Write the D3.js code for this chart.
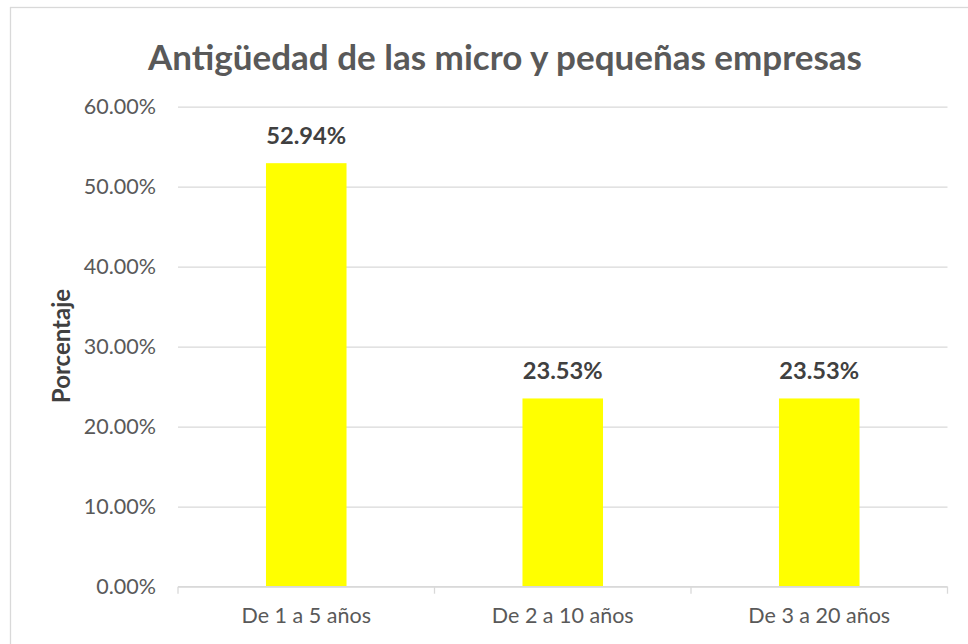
<!DOCTYPE html>
<html>
<head>
<meta charset="utf-8">
<script src="https://cdn.jsdelivr.net/npm/d3@7"></script>
<style>
  body { margin: 0; background: #fff; }
  svg { display: block; }
</style>
</head>
<body>
<div id="chart"></div>
<script>
// chart data
var categories = ['De 1 a 5 años', 'De 2 a 10 años', 'De 3 a 20 años'];
var values = [0.5294, 0.2353, 0.2353];
var yTicks = [0, 0.1, 0.2, 0.3, 0.4, 0.5, 0.6];
var title = 'Antigüedad de las micro y pequeñas empresas';
var yTitle = 'Porcentaje';

var width = 968, height = 644;
var plot = { left: 178, right: 947.5, top: 106.7, bottom: 586.7 };
var font = 'Lato, "Open Sans", sans-serif';

var svg = d3.select('#chart')
    .append('svg')
    .attr('width', width)
    .attr('height', height);

// chart border (runs off the right and bottom of the picture)
svg.append('rect')
    .attr('x', 10.5).attr('y', 7.5)
    .attr('width', 1000).attr('height', 700)
    .attr('fill', 'none')
    .attr('stroke', '#d9d9d9')
    .attr('stroke-width', 1.3);

var x = d3.scaleBand()
    .domain(categories)
    .range([plot.left, plot.right])
    .paddingInner(0.686)
    .paddingOuter(0.343);

var y = d3.scaleLinear()
    .domain([0, 0.6])
    .range([plot.bottom, plot.top]);

// gridlines + y labels
var yAxis = d3.axisLeft(y)
    .tickValues(yTicks)
    .tickFormat(d3.format('.2%'))
    .tickSize(-(plot.right - plot.left))
    .tickPadding(22);

var gy = svg.append('g')
    .attr('transform', 'translate(' + plot.left + ',0)')
    .call(yAxis);
gy.select('.domain').remove();
gy.selectAll('line').attr('stroke', '#d9d9d9').attr('stroke-width', 1.3);
gy.selectAll('text')
    .attr('fill', '#595959')
    .style('font-family', font)
    .style('font-size', '21.5px');

// bars
svg.selectAll('rect.bar')
    .data(values)
    .enter()
    .append('rect')
    .attr('class', 'bar')
    .attr('x', function(d, i) { return x(categories[i]); })
    .attr('y', function(d) { return y(d); })
    .attr('width', x.bandwidth())
    .attr('height', function(d) { return y(0) - y(d); })
    .attr('fill', '#ffff00');

// data labels
svg.selectAll('text.lbl')
    .data(values)
    .enter()
    .append('text')
    .attr('class', 'lbl')
    .attr('x', function(d, i) { return x(categories[i]) + x.bandwidth() / 2; })
    .attr('y', function(d) { return y(d) - 19; })
    .attr('text-anchor', 'middle')
    .attr('fill', '#404040')
    .style('font-family', font)
    .style('font-weight', 'bold')
    .style('font-size', '23.7px')
    .text(d3.format('.2%'));

// x axis
var xAxis = d3.axisBottom(x).tickSize(0).tickPadding(21);
var gx = svg.append('g')
    .attr('transform', 'translate(0,' + plot.bottom + ')')
    .call(xAxis);
gx.select('.domain').attr('stroke', '#d9d9d9').attr('stroke-width', 1.3)
    .attr('d', 'M' + plot.left + ',0H' + plot.right);
gx.selectAll('text')
    .attr('fill', '#595959')
    .style('font-family', font)
    .style('font-size', '21.5px');

// category separator ticks
var step = x.step();
var sep = d3.range(categories.length + 1).map(function(i) { return plot.left + i * step; });
svg.selectAll('line.sep')
    .data(sep)
    .enter()
    .append('line')
    .attr('class', 'sep')
    .attr('x1', function(d) { return d; })
    .attr('x2', function(d) { return d; })
    .attr('y1', plot.bottom)
    .attr('y2', plot.bottom + 7)
    .attr('stroke', '#d9d9d9')
    .attr('stroke-width', 1.3);

// title
svg.append('text')
    .attr('x', 505)
    .attr('y', 70)
    .attr('text-anchor', 'middle')
    .attr('fill', '#595959')
    .style('font-family', font)
    .style('font-weight', 'bold')
    .style('font-size', '35px')
    .text(title);

// y axis title
svg.append('text')
    .attr('transform', 'translate(70,346) rotate(-90)')
    .attr('text-anchor', 'middle')
    .attr('fill', '#404040')
    .style('font-family', font)
    .style('font-weight', 'bold')
    .style('font-size', '24px')
    .text(yTitle);
</script>
</body>
</html>
